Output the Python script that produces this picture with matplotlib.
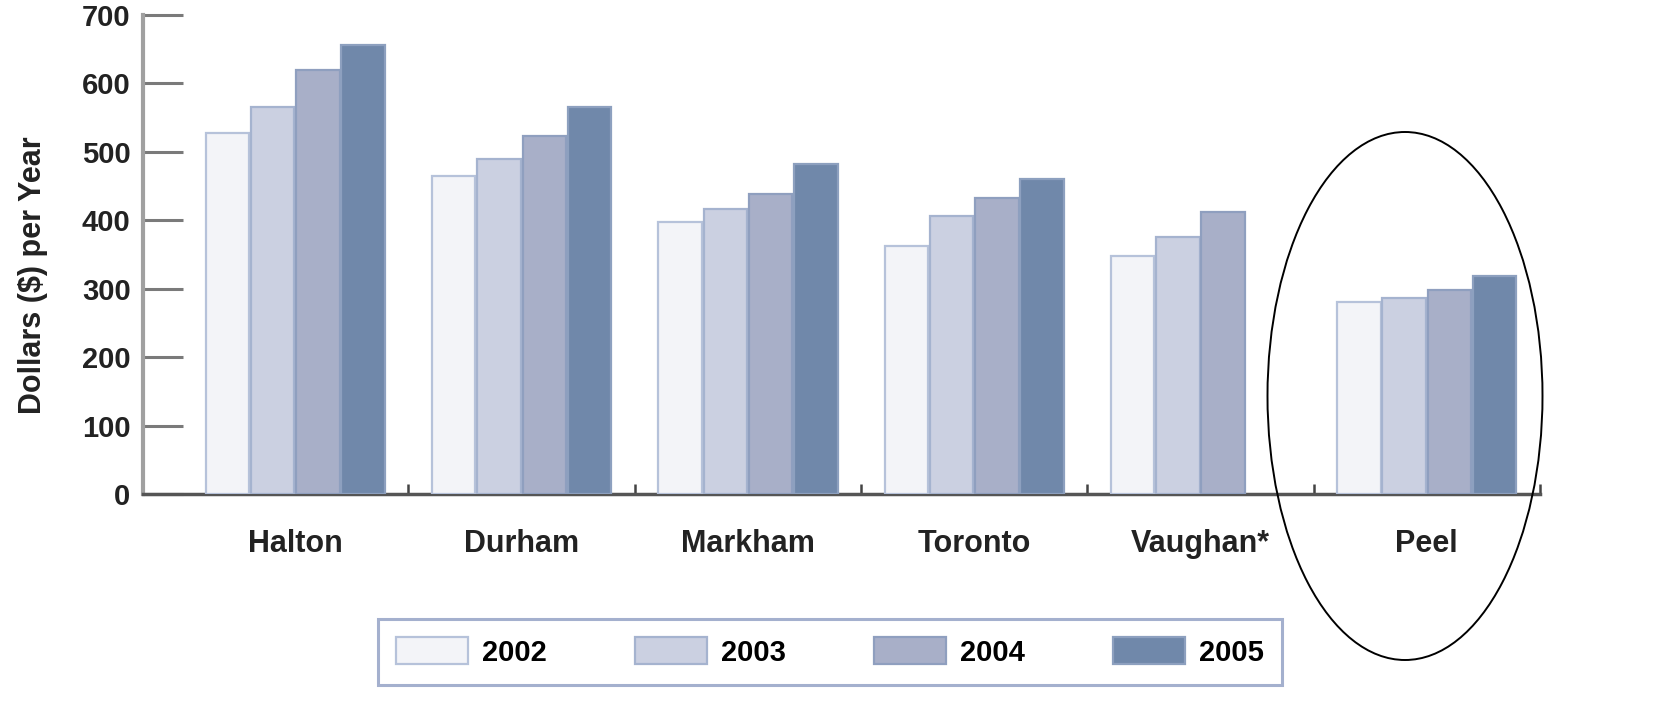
import numpy as np
import matplotlib.pyplot as plt
from matplotlib.patches import Ellipse

plt.rcParams['font.family'] = ['Liberation Sans', 'DejaVu Sans']

regions = ['Halton', 'Durham', 'Markham', 'Toronto', 'Vaughan*', 'Peel']
years = ['2002', '2003', '2004', '2005']
v2002 = [528, 465, 397, 362, 348, 281]
v2003 = [565, 489, 416, 406, 376, 287]
v2004 = [620, 523, 439, 432, 412, 298]
v2005 = [656, 565, 482, 461, np.nan, 318]   # no 2005 value for Vaughan
yticks = [0, 100, 200, 300, 400, 500, 600, 700]

fill_colors = ['#f3f4f8', '#cbd0e1', '#a8afc8', '#7088aa']
edge_colors = ['#b6c2da', '#a5b3cf', '#8f9fbf', '#8da0bf']

fig = plt.figure(figsize=(16.63, 7.28), dpi=100)
ax = fig.add_axes([0.086, 0.3214, 0.840, 0.658])

x = np.arange(len(regions))
w = 0.2
handles = []
for i, vals in enumerate([v2002, v2003, v2004, v2005]):
    vals = np.array(vals, dtype=float)
    ok = ~np.isnan(vals)
    b = ax.bar(x[ok] + (i - 1.5) * w, vals[ok], w * 0.96,
               color=fill_colors[i], edgecolor=edge_colors[i],
               linewidth=1.6, zorder=3)
    handles.append(b)

ax.set_xlim(-0.673, 5.5)
ax.set_ylim(0, 700)

for s in ['top', 'right']:
    ax.spines[s].set_visible(False)
ax.spines['left'].set_color('#a0a0a0')
ax.spines['left'].set_linewidth(3)
ax.spines['bottom'].set_color('#555555')
ax.spines['bottom'].set_linewidth(2.5)

ax.set_yticks(yticks)
ax.tick_params(axis='y', direction='in', length=29, width=2.2,
               color='#7a7a7a', pad=9, labelsize=21, labelcolor='#222222')
for t in ax.get_yticklabels():
    t.set_fontweight('bold')

ax.set_xticks(x)
ax.set_xticklabels(regions, fontweight='bold')
ax.set_xticks(np.arange(0.5, len(regions), 1), minor=True)
ax.tick_params(axis='x', which='major', length=0, pad=25,
               labelsize=22, labelcolor='#222222')
ax.tick_params(axis='x', which='minor', direction='in', length=7,
               width=1.8, color='#444444')

fig.text(0.020, 0.622, 'Dollars ($) per Year', rotation=90,
         ha='center', va='center', fontsize=22, fontweight='bold',
         color='#222222')

leg = fig.legend(handles, years, loc='center',
                 bbox_to_anchor=(830 / 1663, 1 - 652 / 728), ncol=4,
                 frameon=True, fancybox=False, edgecolor='#8e9cc2',
                 prop={'size': 21, 'weight': 'bold'},
                 handlelength=2.47, handleheight=1.03, handletextpad=0.5,
                 columnspacing=3.0, borderpad=0.62)
leg.get_frame().set_linewidth(2.2)

# hand-drawn highlight round Peel
ell = Ellipse((1405 / 1663, 1 - 396 / 728), 275 / 1663, 528 / 728,
              transform=fig.transFigure, fill=False, edgecolor='black',
              linewidth=1.4)
fig.add_artist(ell)

fig.savefig('out.png', dpi=100)
